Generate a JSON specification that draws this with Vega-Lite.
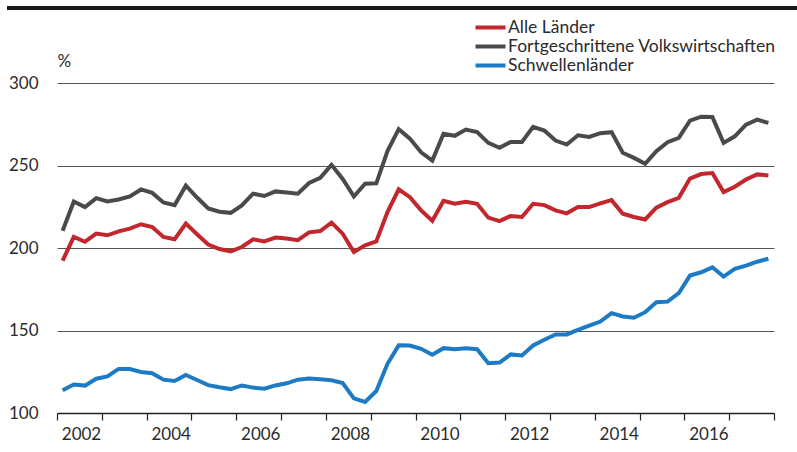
{
  "$schema": "https://vega.github.io/schema/vega-lite/v6.json",
  "width": 717,
  "height": 330,
  "autosize": {"type": "none"},
  "padding": {"left": 57, "top": 83, "right": 23, "bottom": 39},
  "config": {
    "view": {"stroke": null},
    "font": "Lato",
    "axis": {"labelFont": "Lato", "titleFont": "Lato", "labelColor": "#2b2b2b", "titleColor": "#2b2b2b"},
    "legend": {"labelFont": "Lato"}
  },
  "data": {
    "values": [
      {"t": 2002.125, "Alle Länder": 192.3, "Fortgeschrittene Volkswirtschaften": 210.5, "Schwellenländer": 113.8},
      {"t": 2002.375, "Alle Länder": 206.7, "Fortgeschrittene Volkswirtschaften": 228.2, "Schwellenländer": 117.3},
      {"t": 2002.625, "Alle Länder": 203.8, "Fortgeschrittene Volkswirtschaften": 224.8, "Schwellenländer": 116.6},
      {"t": 2002.875, "Alle Länder": 208.7, "Fortgeschrittene Volkswirtschaften": 230.2, "Schwellenländer": 120.8},
      {"t": 2003.125, "Alle Länder": 207.7, "Fortgeschrittene Volkswirtschaften": 228.2, "Schwellenländer": 122.2},
      {"t": 2003.375, "Alle Länder": 210.1, "Fortgeschrittene Volkswirtschaften": 229.4, "Schwellenländer": 126.7},
      {"t": 2003.625, "Alle Länder": 211.7, "Fortgeschrittene Volkswirtschaften": 231.3, "Schwellenländer": 126.7},
      {"t": 2003.875, "Alle Länder": 214.4, "Fortgeschrittene Volkswirtschaften": 235.5, "Schwellenländer": 124.9},
      {"t": 2004.125, "Alle Länder": 212.7, "Fortgeschrittene Volkswirtschaften": 233.4, "Schwellenländer": 124.1},
      {"t": 2004.375, "Alle Länder": 206.7, "Fortgeschrittene Volkswirtschaften": 227.6, "Schwellenländer": 120.2},
      {"t": 2004.625, "Alle Länder": 205.3, "Fortgeschrittene Volkswirtschaften": 226.0, "Schwellenländer": 119.4},
      {"t": 2004.875, "Alle Länder": 214.8, "Fortgeschrittene Volkswirtschaften": 237.8, "Schwellenländer": 123.1},
      {"t": 2005.125, "Alle Länder": 208.3, "Fortgeschrittene Volkswirtschaften": 230.6, "Schwellenländer": 120.0},
      {"t": 2005.375, "Alle Länder": 202.1, "Fortgeschrittene Volkswirtschaften": 224.0, "Schwellenländer": 116.9},
      {"t": 2005.625, "Alle Länder": 199.4, "Fortgeschrittene Volkswirtschaften": 222.0, "Schwellenländer": 115.6},
      {"t": 2005.875, "Alle Länder": 198.0, "Fortgeschrittene Volkswirtschaften": 221.3, "Schwellenländer": 114.5},
      {"t": 2006.125, "Alle Länder": 200.6, "Fortgeschrittene Volkswirtschaften": 225.8, "Schwellenländer": 116.7},
      {"t": 2006.375, "Alle Länder": 205.3, "Fortgeschrittene Volkswirtschaften": 232.9, "Schwellenländer": 115.4},
      {"t": 2006.625, "Alle Länder": 204.0, "Fortgeschrittene Volkswirtschaften": 231.5, "Schwellenländer": 114.7},
      {"t": 2006.875, "Alle Länder": 206.3, "Fortgeschrittene Volkswirtschaften": 234.3, "Schwellenländer": 116.7},
      {"t": 2007.125, "Alle Länder": 205.7, "Fortgeschrittene Volkswirtschaften": 233.7, "Schwellenländer": 118.0},
      {"t": 2007.375, "Alle Länder": 204.7, "Fortgeschrittene Volkswirtschaften": 232.9, "Schwellenländer": 120.2},
      {"t": 2007.625, "Alle Länder": 209.5, "Fortgeschrittene Volkswirtschaften": 239.4, "Schwellenländer": 120.9},
      {"t": 2007.875, "Alle Länder": 210.3, "Fortgeschrittene Volkswirtschaften": 242.5, "Schwellenländer": 120.4},
      {"t": 2008.125, "Alle Länder": 215.4, "Fortgeschrittene Volkswirtschaften": 250.4, "Schwellenländer": 119.8},
      {"t": 2008.375, "Alle Länder": 208.7, "Fortgeschrittene Volkswirtschaften": 241.8, "Schwellenländer": 118.2},
      {"t": 2008.625, "Alle Länder": 197.6, "Fortgeschrittene Volkswirtschaften": 231.2, "Schwellenländer": 108.9},
      {"t": 2008.875, "Alle Länder": 201.6, "Fortgeschrittene Volkswirtschaften": 239.0, "Schwellenländer": 106.7},
      {"t": 2009.125, "Alle Länder": 204.0, "Fortgeschrittene Volkswirtschaften": 239.2, "Schwellenländer": 113.3},
      {"t": 2009.375, "Alle Länder": 221.8, "Fortgeschrittene Volkswirtschaften": 258.8, "Schwellenländer": 129.8},
      {"t": 2009.625, "Alle Länder": 235.6, "Fortgeschrittene Volkswirtschaften": 272.0, "Schwellenländer": 141.0},
      {"t": 2009.875, "Alle Länder": 230.8, "Fortgeschrittene Volkswirtschaften": 266.3, "Schwellenländer": 140.9},
      {"t": 2010.125, "Alle Länder": 222.8, "Fortgeschrittene Volkswirtschaften": 258.0, "Schwellenländer": 138.9},
      {"t": 2010.375, "Alle Länder": 216.5, "Fortgeschrittene Volkswirtschaften": 253.0, "Schwellenländer": 135.3},
      {"t": 2010.625, "Alle Länder": 228.6, "Fortgeschrittene Volkswirtschaften": 269.2, "Schwellenländer": 139.3},
      {"t": 2010.875, "Alle Länder": 226.8, "Fortgeschrittene Volkswirtschaften": 268.0, "Schwellenländer": 138.7},
      {"t": 2011.125, "Alle Länder": 228.0, "Fortgeschrittene Volkswirtschaften": 271.8, "Schwellenländer": 139.3},
      {"t": 2011.375, "Alle Länder": 226.8, "Fortgeschrittene Volkswirtschaften": 270.2, "Schwellenländer": 138.7},
      {"t": 2011.625, "Alle Länder": 218.4, "Fortgeschrittene Volkswirtschaften": 263.7, "Schwellenländer": 130.2},
      {"t": 2011.875, "Alle Länder": 216.3, "Fortgeschrittene Volkswirtschaften": 260.7, "Schwellenländer": 130.6},
      {"t": 2012.125, "Alle Länder": 219.4, "Fortgeschrittene Volkswirtschaften": 264.3, "Schwellenländer": 135.5},
      {"t": 2012.375, "Alle Länder": 218.8, "Fortgeschrittene Volkswirtschaften": 264.3, "Schwellenländer": 134.9},
      {"t": 2012.625, "Alle Länder": 226.8, "Fortgeschrittene Volkswirtschaften": 273.4, "Schwellenländer": 140.9},
      {"t": 2012.875, "Alle Länder": 226.0, "Fortgeschrittene Volkswirtschaften": 271.2, "Schwellenländer": 144.4},
      {"t": 2013.125, "Alle Länder": 222.8, "Fortgeschrittene Volkswirtschaften": 265.1, "Schwellenländer": 147.6},
      {"t": 2013.375, "Alle Länder": 221.0, "Fortgeschrittene Volkswirtschaften": 262.7, "Schwellenländer": 147.6},
      {"t": 2013.625, "Alle Länder": 224.8, "Fortgeschrittene Volkswirtschaften": 268.3, "Schwellenländer": 150.4},
      {"t": 2013.875, "Alle Länder": 224.8, "Fortgeschrittene Volkswirtschaften": 267.3, "Schwellenländer": 153.0},
      {"t": 2014.125, "Alle Länder": 227.0, "Fortgeschrittene Volkswirtschaften": 269.6, "Schwellenländer": 155.4},
      {"t": 2014.375, "Alle Länder": 229.0, "Fortgeschrittene Volkswirtschaften": 270.2, "Schwellenländer": 160.5},
      {"t": 2014.625, "Alle Länder": 220.8, "Fortgeschrittene Volkswirtschaften": 257.7, "Schwellenländer": 158.5},
      {"t": 2014.875, "Alle Länder": 218.8, "Fortgeschrittene Volkswirtschaften": 254.6, "Schwellenländer": 157.7},
      {"t": 2015.125, "Alle Länder": 217.3, "Fortgeschrittene Volkswirtschaften": 251.0, "Schwellenländer": 161.1},
      {"t": 2015.375, "Alle Länder": 224.4, "Fortgeschrittene Volkswirtschaften": 258.7, "Schwellenländer": 167.1},
      {"t": 2015.625, "Alle Länder": 227.8, "Fortgeschrittene Volkswirtschaften": 264.1, "Schwellenländer": 167.5},
      {"t": 2015.875, "Alle Länder": 230.4, "Fortgeschrittene Volkswirtschaften": 266.7, "Schwellenländer": 172.6},
      {"t": 2016.125, "Alle Länder": 242.1, "Fortgeschrittene Volkswirtschaften": 277.2, "Schwellenländer": 183.3},
      {"t": 2016.375, "Alle Länder": 244.8, "Fortgeschrittene Volkswirtschaften": 279.6, "Schwellenländer": 185.3},
      {"t": 2016.625, "Alle Länder": 245.4, "Fortgeschrittene Volkswirtschaften": 279.4, "Schwellenländer": 188.3},
      {"t": 2016.875, "Alle Länder": 233.9, "Fortgeschrittene Volkswirtschaften": 263.7, "Schwellenländer": 182.7},
      {"t": 2017.125, "Alle Länder": 237.1, "Fortgeschrittene Volkswirtschaften": 267.7, "Schwellenländer": 187.3},
      {"t": 2017.375, "Alle Länder": 241.5, "Fortgeschrittene Volkswirtschaften": 274.8, "Schwellenländer": 189.3},
      {"t": 2017.625, "Alle Länder": 244.6, "Fortgeschrittene Volkswirtschaften": 277.8, "Schwellenländer": 191.7},
      {"t": 2017.875, "Alle Länder": 244.0, "Fortgeschrittene Volkswirtschaften": 275.8, "Schwellenländer": 193.5}
    ]
  },
  "layer": [
    {
      "transform": [{"fold": ["Alle Länder", "Fortgeschrittene Volkswirtschaften", "Schwellenländer"], "as": ["Reihe", "Wert"]}],
      "mark": {"type": "line", "strokeWidth": 4, "strokeJoin": "miter"},
      "encoding": {
        "x": {
          "field": "t", "type": "quantitative",
          "scale": {"domain": [2002, 2018], "nice": false, "zero": false},
          "axis": {
            "title": null,
            "values": [2002, 2003, 2004, 2005, 2006, 2007, 2008, 2009, 2010, 2011, 2012, 2013, 2014, 2015, 2016, 2017, 2018],
            "labelExpr": "datum.value % 2 == 0 && datum.value < 2018 ? '' + datum.value : ''",
            "labelOffset": 24,
            "labelFontSize": 17,
            "labelPadding": 6,
            "labelFlush": false,
            "labelOverlap": false,
            "grid": false,
            "domainColor": "#222222",
            "domainWidth": 1.5,
            "tickColor": "#222222",
            "tickWidth": 1.2,
            "tickSize": 7
          }
        },
        "y": {
          "field": "Wert", "type": "quantitative",
          "scale": {"domain": [100, 300], "nice": false, "zero": false},
          "axis": {
            "values": [100, 150, 200, 250, 300],
            "title": "%",
            "titleAngle": 0,
            "titleX": 0,
            "titleY": -22,
            "titleAlign": "left",
            "titleBaseline": "middle",
            "titleFontSize": 17,
            "titleFontWeight": "normal",
            "labelFontSize": 17,
            "labelPadding": 19,
            "domain": false,
            "ticks": false,
            "grid": true,
            "gridColor": "#555555",
            "gridWidth": 1
          }
        },
        "color": {
          "field": "Reihe", "type": "nominal",
          "scale": {
            "domain": ["Alle Länder", "Fortgeschrittene Volkswirtschaften", "Schwellenländer"],
            "range": ["#c1272d", "#4a4a4c", "#1c7bc4"]
          },
          "legend": {
            "title": null,
            "orient": "none",
            "legendX": 424,
            "legendY": -65,
            "padding": 0,
            "symbolType": "M-2,0H2",
            "symbolSize": 225,
            "symbolStrokeWidth": 4,
            "labelFontSize": 17.5,
            "labelColor": "#2b2b2b",
            "labelOffset": 8,
            "rowPadding": 1,
            "labelLimit": 400
          }
        }
      }
    },
    {
      "mark": {"type": "rule", "clip": false, "color": "#1a1a1a", "strokeWidth": 2.5},
      "encoding": {
        "x": {"datum": 2000.9, "type": "quantitative"},
        "x2": {"datum": 2018.6},
        "y": {"datum": 345.5, "type": "quantitative"}
      }
    }
  ]
}
